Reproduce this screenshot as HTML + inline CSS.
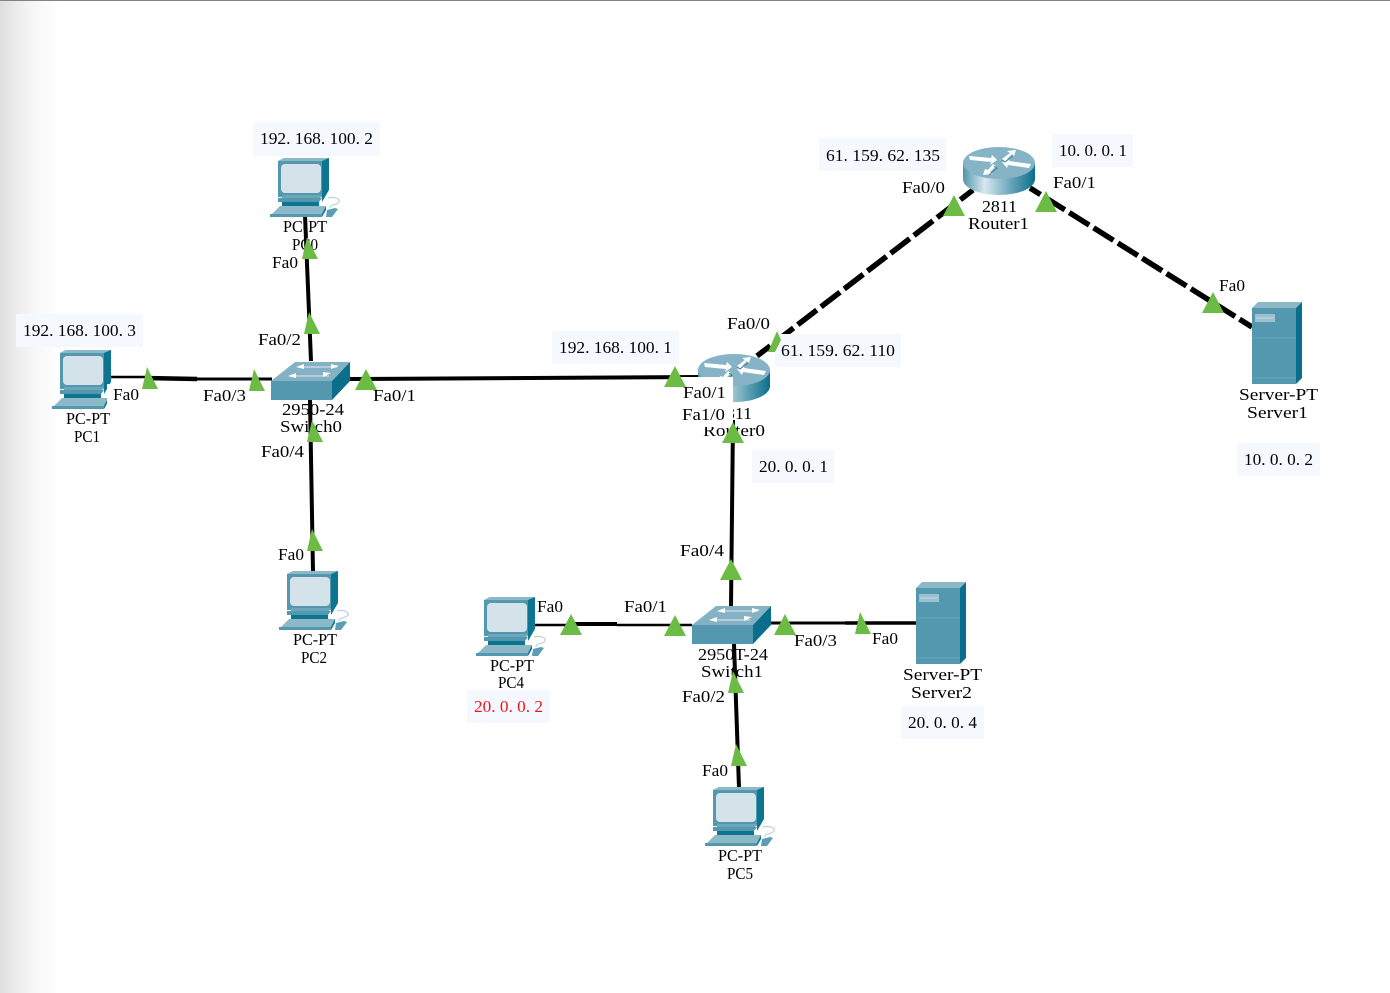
<!DOCTYPE html>
<html>
<head>
<meta charset="utf-8">
<style>
html,body{margin:0;padding:0;background:#fff;width:1390px;height:993px;overflow:hidden}
svg{display:block}
text{font-family:"Liberation Serif","Noto Serif CJK SC",serif;font-size:17px;fill:#000}
</style>
</head>
<body>
<svg width="1390" height="993" viewBox="0 0 1390 993" xmlns="http://www.w3.org/2000/svg">
<defs>
<linearGradient id="side" x1="0" x2="1" y1="0" y2="0">
<stop offset="0" stop-color="#dedede"/><stop offset=".25" stop-color="#ebebeb"/><stop offset=".6" stop-color="#f8f8f8"/><stop offset="1" stop-color="#fff"/>
</linearGradient>
<linearGradient id="rt" x1="0" x2="1" y1="0" y2="0">
<stop offset="0" stop-color="#4f95ab"/><stop offset=".3" stop-color="#d8e8ee"/><stop offset=".7" stop-color="#5d9fb4"/><stop offset="1" stop-color="#0b6f8b"/>
</linearGradient>
<g id="pc">
<polygon points="8,3 14,0 59,0 59,30 53,39 8,39" fill="#5498b0"/>
<polygon points="8,3 14,0 59,0 53,3" fill="#8db8c8"/>
<polygon points="52,3 59,0 59,30 52,39" fill="#0e7590"/>
<rect x="11" y="6" width="40" height="29" rx="4" fill="#d4e3ea"/>
<polygon points="12,37 53,37 50,40 12,40" fill="#6ba6ba"/>
<polygon points="8,40 52,40 49,44 8,44" fill="#5498b0"/>
<polygon points="52,32 59,28 59,32 52,44" fill="#0e7590"/>
<rect x="12" y="44" width="37" height="4" fill="#0e7590"/>
<polygon points="10,48 56,48 52,58 0,58" fill="#8db8c8"/>
<rect x="0" y="56" width="52" height="3" fill="#5498b0"/>
<polygon points="56,48 56,52 52,59 52,56" fill="#0e7590"/>
<polygon points="57,52 65,50 68,51 62,59 56,59" fill="#5b9db3"/>
<path d="M58,40 C66,38 72,42 68,45 C66,47 60,46 60,50" fill="none" stroke="#b9d2dc" stroke-width="1.2"/>
</g>
<g id="sw">
<polygon points="0,21 24,2 79,2 61,21" fill="#84b2c4"/>
<rect x="0" y="21" width="61" height="19" fill="#5498b0"/>
<polygon points="61,21 79,2 79,21 61,40" fill="#0b6f8b"/>
<path d="M27,7 H66 M18,16 H58" stroke="#cfe0e7" stroke-width="1.2" fill="none"/>
<path d="M25,7 l8,-3 v5z M68,6 l-8,-2 v5z M17,16 l8,-3 v5z M60,13 l-8,-1 v5z" fill="#fff"/>
</g>
<g id="rtr">
<path d="M0,16 V32 C0,41 16,48 36,48 C56,48 72,41 72,32 V16Z" fill="url(#rt)"/>
<ellipse cx="36" cy="16" rx="36" ry="16" fill="#86b4c6"/>
<path d="M6,9 L28,11 L29,8 L34,13 L27,18 L28,15 L7,13Z M66,21 L45,18 L44,21 L39,15 L47,11 L46,14 L68,17Z M39,12 L47,6 L44,4 L53,3 L51,9 L49,7 L42,14Z M33,19 L27,25 L30,27 L20,28 L22,22 L25,23 L30,17Z" fill="#fff"/>
<path d="M39,13 L42,15 L50,9 M31,19 L34,21 L26,28" stroke="#3f7f96" stroke-width="1" fill="none"/>
</g>
<g id="srv">
<polygon points="0,6 6,0 50,0 44,6" fill="#8db8c8"/>
<rect x="0" y="6" width="44" height="76" fill="#5498b0"/>
<polygon points="44,6 50,0 50,76 44,82" fill="#0b6f8b"/>
<rect x="3" y="12" width="20" height="8" fill="#9cc2d0"/>
<path d="M4,16 H22" stroke="#c4dae2"/>
<path d="M0,36 H44 M0,76 H44" stroke="#6aa6ba"/>
</g>
<polygon id="t" points="-3,-11 8,11 -8,11" fill="#6cbb45"/>
<polygon id="T" points="0,-11 11,10 -11,10" fill="#6cbb45"/>
</defs>

<rect width="1390" height="993" fill="#fff"/>
<rect width="60" height="993" fill="url(#side)"/>
<rect width="1390" height="1" fill="#7f8491"/>

<!-- device labels under the links -->
<text x="283" y="232" textLength="44" lengthAdjust="spacingAndGlyphs">PC-PT</text>
<text x="292" y="250" textLength="26" lengthAdjust="spacingAndGlyphs">PC0</text>
<text x="293" y="645" textLength="44" lengthAdjust="spacingAndGlyphs">PC-PT</text>
<text x="301" y="663" textLength="26" lengthAdjust="spacingAndGlyphs">PC2</text>
<text x="490" y="671" textLength="44" lengthAdjust="spacingAndGlyphs">PC-PT</text>
<text x="498" y="688" textLength="26" lengthAdjust="spacingAndGlyphs">PC4</text>
<text x="718" y="861" textLength="44" lengthAdjust="spacingAndGlyphs">PC-PT</text>
<text x="727" y="879" textLength="26" lengthAdjust="spacingAndGlyphs">PC5</text>
<text x="282" y="415" textLength="62" lengthAdjust="spacingAndGlyphs">2950-24</text>
<text x="280" y="432" textLength="62" lengthAdjust="spacingAndGlyphs">Switch0</text>
<text x="698" y="660" textLength="70" lengthAdjust="spacingAndGlyphs">2950T-24</text>
<text x="701" y="677" textLength="62" lengthAdjust="spacingAndGlyphs">Switch1</text>
<text x="717" y="419" textLength="35" lengthAdjust="spacingAndGlyphs">2811</text>
<text x="703" y="436" textLength="62" lengthAdjust="spacingAndGlyphs">Router0</text>
<text x="982" y="212" textLength="35" lengthAdjust="spacingAndGlyphs">2811</text>
<text x="968" y="229" textLength="61" lengthAdjust="spacingAndGlyphs">Router1</text>
<text x="1239" y="400" textLength="79" lengthAdjust="spacingAndGlyphs">Server-PT</text>
<text x="1247" y="418" textLength="61" lengthAdjust="spacingAndGlyphs">Server1</text>
<text x="903" y="680" textLength="79" lengthAdjust="spacingAndGlyphs">Server-PT</text>
<text x="911" y="698" textLength="61" lengthAdjust="spacingAndGlyphs">Server2</text>

<!-- links -->
<g stroke="#000" fill="none" stroke-width="4">
<path d="M305,215 L311,361"/>
<path d="M110,377 H145" stroke-width="2.5"/>
<path d="M145,378 L197,379" stroke-width="4.5"/>
<path d="M197,379 H272" stroke-width="3"/>
<path d="M350,379 L700,377"/>
<path d="M310,400 L313,572"/>
<path d="M733,420 L731,606"/>
<path d="M535,625 H575" stroke-width="2.5"/>
<path d="M575,624 H617" stroke-width="4"/>
<path d="M617,625 H692" stroke-width="2.5"/>
<path d="M771,623 H845" stroke-width="3"/>
<path d="M845,623 H916" stroke-width="3.5"/>
<path d="M734,644 L739,788"/>
<path d="M757,356 L973,190" stroke-width="5.5" stroke-dasharray="24 5.3" stroke-dashoffset="7.2"/>
<path d="M1030,188 L1252,327" stroke-width="5.5" stroke-dasharray="23.5 5.2" stroke-dashoffset="11.1"/>
</g>

<!-- devices -->
<use href="#pc" x="270" y="158"/>
<use href="#pc" x="52" y="350"/>
<use href="#pc" x="279" y="571"/>
<use href="#pc" x="476" y="597"/>
<use href="#pc" x="705" y="787"/>
<use href="#sw" x="271" y="360"/>
<use href="#sw" x="692" y="604"/>
<use href="#rtr" x="698" y="354"/>
<use href="#rtr" x="963" y="147"/>
<use href="#srv" x="1252" y="302"/>
<use href="#srv" x="916" y="582"/>

<!-- label boxes -->
<g fill="#f6f8ff">
<rect x="253" y="122" width="127" height="34"/>
<rect x="16" y="314" width="127" height="33"/>
<rect x="552" y="331" width="127" height="33"/>
<rect x="819" y="138" width="127" height="33"/>
<rect x="1052" y="134" width="81" height="33"/>
<rect x="775" y="334" width="126" height="33"/>
<rect x="752" y="450" width="82" height="33"/>
<rect x="1237" y="443" width="83" height="33"/>
<rect x="467" y="690" width="83" height="33"/>
<rect x="901" y="706" width="83" height="33"/>
</g>
<rect x="678" y="377" width="55" height="50" fill="#fff"/>
<rect x="107" y="384" width="34" height="28" fill="#fff"/>
<text x="66" y="424" textLength="44" lengthAdjust="spacingAndGlyphs">PC-PT</text>
<text x="74" y="442" textLength="26" lengthAdjust="spacingAndGlyphs">PC1</text>

<!-- triangles -->
<use href="#t" x="310" y="248"/>
<use href="#t" x="312" y="323"/>
<use href="#t" x="150" y="378"/>
<use href="#t" x="257" y="380"/>
<use href="#T" x="366" y="380"/>
<use href="#T" x="675" y="377"/>
<use href="#T" x="733" y="433"/>
<use href="#T" x="731" y="570"/>
<use href="#T" x="675" y="626"/>
<use href="#T" x="571" y="625"/>
<use href="#T" x="785" y="625"/>
<use href="#t" x="863" y="623"/>
<use href="#t" x="736" y="682"/>
<use href="#t" x="739" y="755"/>
<use href="#t" x="315" y="540"/>
<use href="#t" x="315" y="431"/>
<use href="#T" x="954" y="206"/>
<use href="#T" x="1046" y="202"/>
<use href="#T" x="1213" y="303"/>
<polygon points="777,331 781,340 775,352 768,352" fill="#6cbb45"/>

<!-- IP labels -->
<g>
<text x="260" y="144" textLength="113" lengthAdjust="spacingAndGlyphs">192. 168. 100. 2</text>
<text x="23" y="336" textLength="113" lengthAdjust="spacingAndGlyphs">192. 168. 100. 3</text>
<text x="559" y="353" textLength="113" lengthAdjust="spacingAndGlyphs">192. 168. 100. 1</text>
<text x="826" y="161" textLength="114" lengthAdjust="spacingAndGlyphs">61. 159. 62. 135</text>
<text x="1059" y="156" textLength="68" lengthAdjust="spacingAndGlyphs">10. 0. 0. 1</text>
<text x="781" y="356" textLength="114" lengthAdjust="spacingAndGlyphs">61. 159. 62. 110</text>
<text x="759" y="472" textLength="69" lengthAdjust="spacingAndGlyphs">20. 0. 0. 1</text>
<text x="1244" y="465" textLength="69" lengthAdjust="spacingAndGlyphs">10. 0. 0. 2</text>
<text x="474" y="712" textLength="69" lengthAdjust="spacingAndGlyphs" style="fill:#f0141e">20. 0. 0. 2</text>
<text x="908" y="728" textLength="69" lengthAdjust="spacingAndGlyphs">20. 0. 0. 4</text>
</g>

<!-- port labels -->
<g>
<text x="272" y="268" textLength="26" lengthAdjust="spacingAndGlyphs">Fa0</text>
<text x="258" y="345" textLength="43" lengthAdjust="spacingAndGlyphs">Fa0/2</text>
<text x="113" y="400" textLength="26" lengthAdjust="spacingAndGlyphs">Fa0</text>
<text x="203" y="401" textLength="43" lengthAdjust="spacingAndGlyphs">Fa0/3</text>
<text x="373" y="401" textLength="43" lengthAdjust="spacingAndGlyphs">Fa0/1</text>
<text x="261" y="457" textLength="43" lengthAdjust="spacingAndGlyphs">Fa0/4</text>
<text x="278" y="560" textLength="26" lengthAdjust="spacingAndGlyphs">Fa0</text>
<text x="537" y="612" textLength="26" lengthAdjust="spacingAndGlyphs">Fa0</text>
<text x="624" y="612" textLength="43" lengthAdjust="spacingAndGlyphs">Fa0/1</text>
<text x="680" y="556" textLength="44" lengthAdjust="spacingAndGlyphs">Fa0/4</text>
<text x="794" y="646" textLength="43" lengthAdjust="spacingAndGlyphs">Fa0/3</text>
<text x="872" y="644" textLength="26" lengthAdjust="spacingAndGlyphs">Fa0</text>
<text x="682" y="702" textLength="43" lengthAdjust="spacingAndGlyphs">Fa0/2</text>
<text x="702" y="776" textLength="26" lengthAdjust="spacingAndGlyphs">Fa0</text>
<text x="727" y="329" textLength="43" lengthAdjust="spacingAndGlyphs">Fa0/0</text>
<text x="683" y="398" textLength="43" lengthAdjust="spacingAndGlyphs">Fa0/1</text>
<text x="682" y="420" textLength="43" lengthAdjust="spacingAndGlyphs">Fa1/0</text>
<text x="902" y="193" textLength="43" lengthAdjust="spacingAndGlyphs">Fa0/0</text>
<text x="1053" y="188" textLength="43" lengthAdjust="spacingAndGlyphs">Fa0/1</text>
<text x="1219" y="291" textLength="26" lengthAdjust="spacingAndGlyphs">Fa0</text>
</g>
</svg>
</body>
</html>
